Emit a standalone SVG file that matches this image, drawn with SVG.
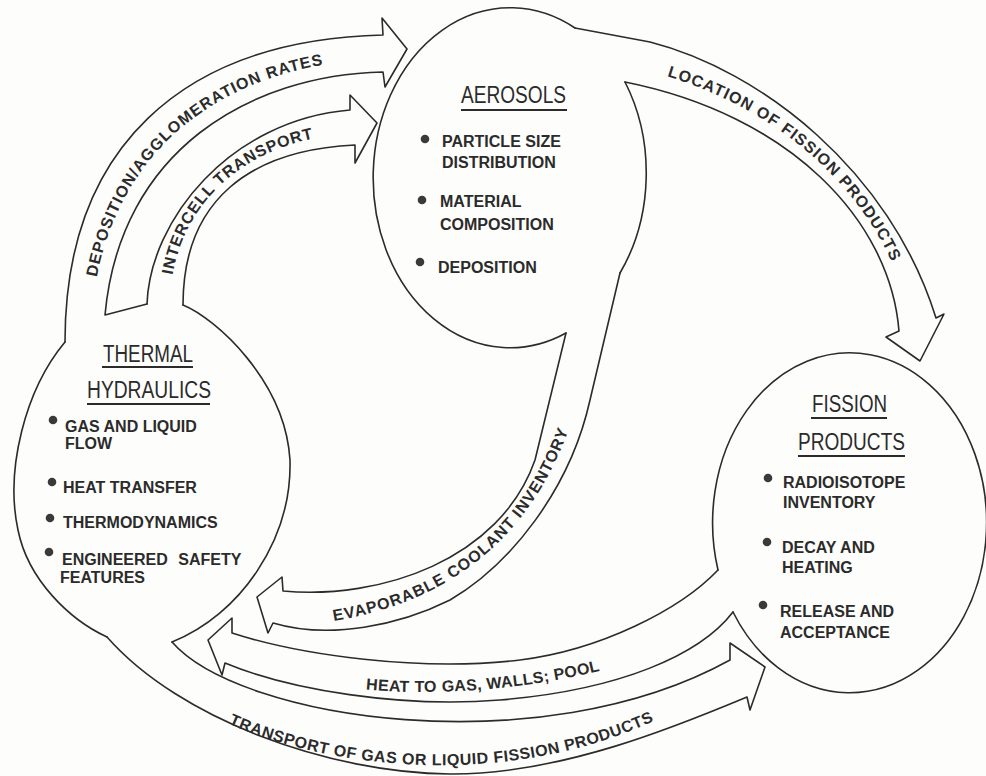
<svg xmlns="http://www.w3.org/2000/svg" width="986" height="776" viewBox="0 0 986 776">
<style>
.ln{fill:none;stroke:#2b2b2b;stroke-width:1.6;stroke-linejoin:round;stroke-linecap:round}
.ttl{font-family:"Liberation Sans",Arial,sans-serif;font-size:23px;fill:#2b2b2b}
.itm{font-family:"Liberation Sans",Arial,sans-serif;font-weight:bold;font-size:16px;fill:#2b2b2b}
.lbl{font-family:"Liberation Sans",Arial,sans-serif;font-weight:bold;font-size:16px;fill:#2b2b2b}
.bul{fill:#3a3a3a}
.ul{stroke:#2b2b2b;stroke-width:1.8}
</style>
<defs>
<path id="pDep" d="M91,324 C101,150 225,63 383,59"/>
<path id="pInt" d="M170,305 C171,207 243,140 353,133"/>
<path id="pLoc" d="M634,68 C780,99 890,203 912,327"/>
<path id="pEva" d="M320,623 C420,610 530,560 575,410"/>
<path id="pHeat" d="M360,689 C430,696 520,692 620,666"/>
<path id="pTra" d="M225,722 C330,770 510,790 660,718"/>
</defs>
<rect width="986" height="776" fill="#fdfdfb"/>

<g id="connectors">
<path class="ln" d="M65,342 C65,150 180,40 383,35 L382,18 L407,49 L385,87 L383,72 C250,75 120,150 105,315 L147,304"/>
<path class="ln" d="M147,304 C150,220 230,120 350,110 L350,95 L377,123 L355,163 L355,145 C250,150 183,200 183,305"/>
<path class="ln" d="M575,28 L650,42 C760,70 890,170 936,318 L944,314 L920,361 L886,337 L899,331 C890,220 790,115 625,82"/>
<path class="ln" d="M620,273 L590,400 C570,490 510,565 450,600 C400,625 330,640 273,623 L268,633 L257,597 L282,577 L283,591 C380,600 500,560 535,460 L566,333"/>
<path class="ln" d="M733,612 C700,655 620,690 500,700 C400,708 290,690 225,663 L222,675 L208,640 L232,618 L232,633 C300,655 420,672 520,660 C600,650 680,610 718,570"/>
<path class="ln" d="M172,642 C240,720 540,765 730,660 L730,643 L765,667 L750,710 L747,697 C680,725 560,775 450,774 C330,773 180,720 107,637"/>
<text class="lbl"><textPath href="#pDep" startOffset="47" textLength="332">DEPOSITION/AGGLOMERATION RATES</textPath></text>
<text class="lbl"><textPath href="#pInt" startOffset="30" textLength="209">INTERCELL TRANSPORT</textPath></text>
<text class="lbl"><textPath href="#pLoc" startOffset="34" textLength="300">LOCATION OF FISSION PRODUCTS</textPath></text>
<text class="lbl"><textPath href="#pEva" startOffset="14" textLength="318">EVAPORABLE COOLANT INVENTORY</textPath></text>
<text class="lbl"><textPath href="#pHeat" startOffset="6" textLength="236">HEAT TO GAS, WALLS; POOL</textPath></text>
<text class="lbl"><textPath href="#pTra" startOffset="4" textLength="437">TRANSPORT OF GAS OR LIQUID FISSION PRODUCTS</textPath></text>
</g>

<g id="aerosols">
<path class="ln" d="M566,333 A137,170 0 1 1 575,28"/>
<path class="ln" d="M625,82 A137,170 0 0 1 620,273"/>
<text class="ttl" x="461" y="103" textLength="105" lengthAdjust="spacingAndGlyphs">AEROSOLS</text>
<line class="ul" x1="461" y1="110" x2="567" y2="110"/>
<circle class="bul" cx="425" cy="139" r="4.3"/>
<text class="itm" x="442" y="147">PARTICLE SIZE</text>
<text class="itm" x="442" y="168">DISTRIBUTION</text>
<circle class="bul" cx="422" cy="200" r="4.3"/>
<text class="itm" x="440" y="207">MATERIAL</text>
<text class="itm" x="440" y="230">COMPOSITION</text>
<circle class="bul" cx="420" cy="262" r="4.3"/>
<text class="itm" x="438" y="273">DEPOSITION</text>
</g>

<g id="thermal-hydraulics">
<path class="ln" d="M183,305 C215,318 285,380 290,460 C292,540 240,615 172,642"/>
<path class="ln" d="M65,342 C25,390 5,470 18,530 C28,580 70,620 107,637"/>
<text class="ttl" x="103" y="362" textLength="90" lengthAdjust="spacingAndGlyphs">THERMAL</text>
<line class="ul" x1="102" y1="367" x2="193" y2="367"/>
<text class="ttl" x="87" y="398" textLength="124" lengthAdjust="spacingAndGlyphs">HYDRAULICS</text>
<line class="ul" x1="87" y1="404" x2="210" y2="404"/>
<circle class="bul" cx="53" cy="420" r="4.3"/>
<text class="itm" x="65" y="432">GAS AND LIQUID</text>
<text class="itm" x="65" y="449">FLOW</text>
<circle class="bul" cx="52" cy="482" r="4.3"/>
<text class="itm" x="63" y="493">HEAT TRANSFER</text>
<circle class="bul" cx="50" cy="518" r="4.3"/>
<text class="itm" x="63" y="528">THERMODYNAMICS</text>
<circle class="bul" cx="49" cy="552" r="4.3"/>
<text class="itm" x="62" y="565" word-spacing="6">ENGINEERED SAFETY</text>
<text class="itm" x="60" y="583">FEATURES</text>
</g>

<g id="fission-products">
<path class="ln" d="M718,570 A137,170 0 1 1 733,612"/>
<text class="ttl" x="812" y="412" textLength="75" lengthAdjust="spacingAndGlyphs">FISSION</text>
<line class="ul" x1="811" y1="418" x2="887" y2="418"/>
<text class="ttl" x="798" y="450" textLength="107" lengthAdjust="spacingAndGlyphs">PRODUCTS</text>
<line class="ul" x1="798" y1="456" x2="905" y2="456"/>
<circle class="bul" cx="768" cy="478" r="4.3"/>
<text class="itm" x="783" y="488">RADIOISOTOPE</text>
<text class="itm" x="783" y="508">INVENTORY</text>
<circle class="bul" cx="767" cy="542" r="4.3"/>
<text class="itm" x="782" y="553">DECAY AND</text>
<text class="itm" x="782" y="573">HEATING</text>
<circle class="bul" cx="763" cy="605" r="4.3"/>
<text class="itm" x="780" y="617">RELEASE AND</text>
<text class="itm" x="780" y="638">ACCEPTANCE</text>
</g>
</svg>
